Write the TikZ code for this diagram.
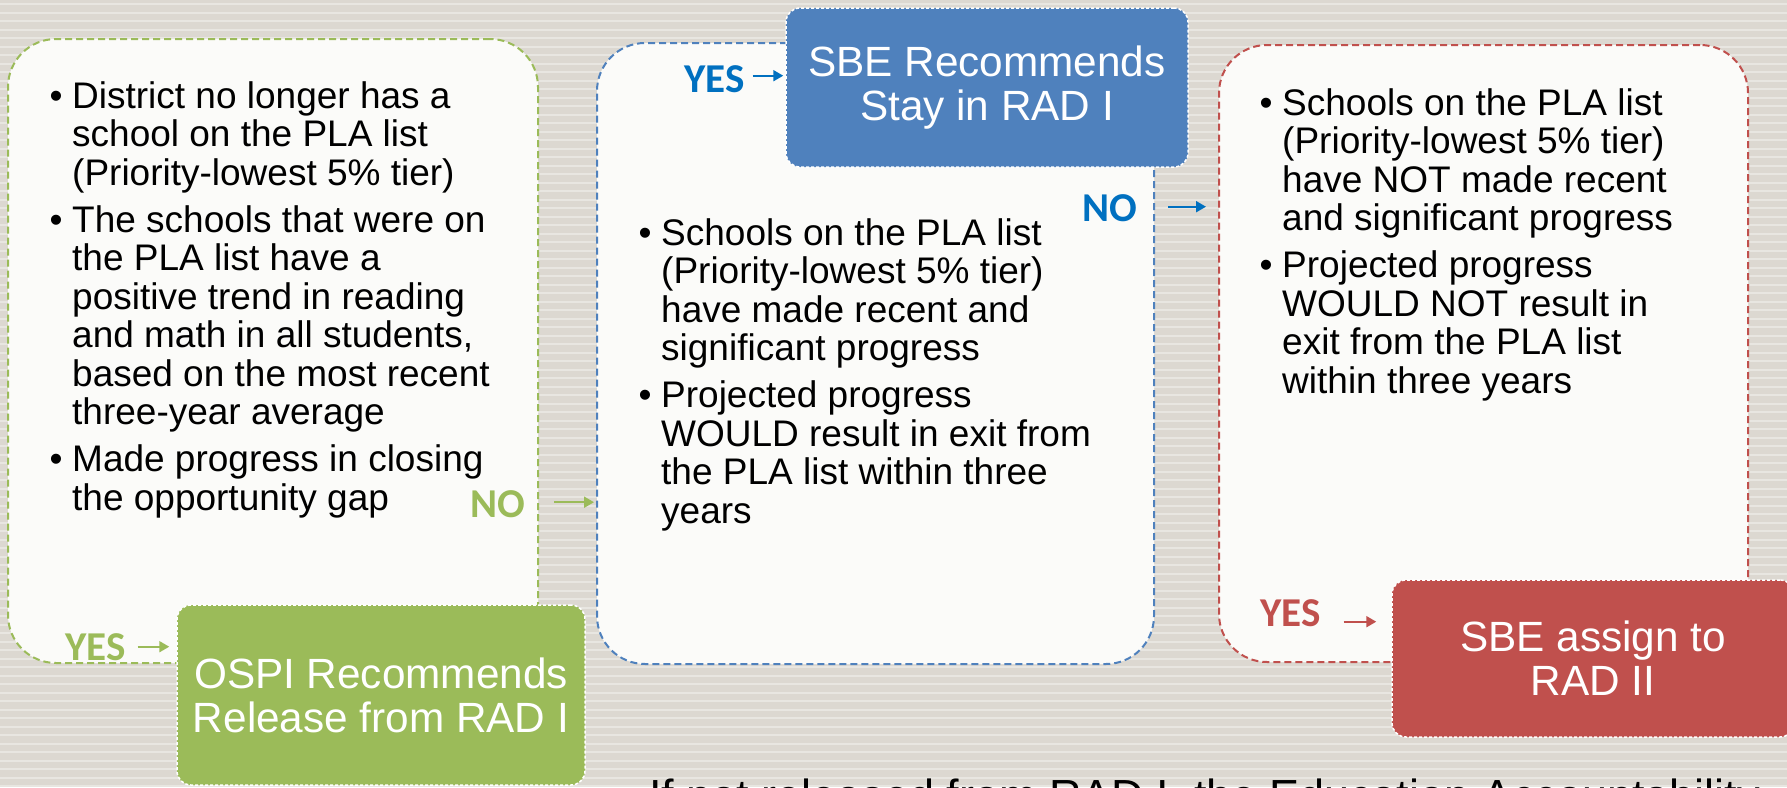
\documentclass[tikz,border=0pt]{standalone}
\usepackage{fontspec}
\setmainfont{Liberation Sans}
\newfontfamily\lblfont{Carlito}
\usetikzlibrary{arrows.meta}
\definecolor{bgc}{HTML}{DCD8D1}
\definecolor{stripec}{HTML}{E8E6E1}
\definecolor{boxfill}{HTML}{FBFBF9}
\definecolor{gr}{HTML}{9BBB59}
\definecolor{bl}{HTML}{4F81BD}
\definecolor{bltxt}{HTML}{0070C0}
\definecolor{rd}{HTML}{C0504D}
\newcommand\bodyfont{\fontsize{37}{38.5}\selectfont\lineskiplimit=-20pt\relax}
\newcommand\bitem[1]{\par\noindent\hangindent=22.5pt\hangafter=1\relax\makebox[22.5pt][l]{•}#1\par}
\newcommand\bgap{\vspace{8.5pt}}
\tikzset{
  bigbox/.style={rounded corners=48pt, fill=boxfill, line width=2pt, dash pattern=on 7pt off 4pt, inner sep=0pt},
  solidbox/.style={rounded corners=14pt, draw=white, dash pattern=on 3pt off 2pt, line width=1.5pt, text=white, align=center, inner sep=0pt, font=\fontsize{42.3}{44}\selectfont},
  lbl/.style={font=\lblfont\bfseries\fontsize{41}{41}\selectfont, inner sep=0pt, anchor=base west},
  bodytext/.style={anchor=base west, inner sep=0pt},
  arr/.style={line width=2pt, -{Triangle[length=10pt,width=11pt]}}
}
\begin{document}
\begin{tikzpicture}[x=1pt,y=-1pt]
\path[use as bounding box, clip] (0,0) rectangle (1787,787);
\fill[bgc] (0,0) rectangle (1787,787);
\foreach \i in {0,...,93} \fill[stripec] (0,{\i*8.5+3}) rectangle (1787,{\i*8.5+5.3});

% big boxes
\node[bigbox, draw=gr, minimum width=530pt, minimum height=624pt] (gbox) at (273,351) {};
\node[bigbox, draw=bl, minimum width=557pt, minimum height=621pt] (bbox) at (875.5,353.5) {};
\node[bigbox, draw=rd, minimum width=529pt, minimum height=617pt] (rbox) at (1483.5,353.5) {};

% body texts
\node[bodytext] (gtext) at (49.5,108) {\begin{minipage}[t]{520pt}\bodyfont
\bitem{District no longer has a\\school on the PLA list\\(Priority-lowest 5\% tier)}\bgap
\bitem{The schools that were on\\the PLA list have a\\positive trend in reading\\and math in all students,\\based on the most recent\\three-year average}\bgap
\bitem{Made progress in closing\\the opportunity gap}
\end{minipage}};
\node[bodytext] (btext) at (638.5,245) {\begin{minipage}[t]{520pt}\bodyfont
\bitem{Schools on the PLA list\\(Priority-lowest 5\% tier)\\have made recent and\\significant progress}\bgap
\bitem{Projected progress\\WOULD result in exit from\\the PLA list within three\\years}
\end{minipage}};
\node[bodytext] (rtext) at (1259.5,115) {\begin{minipage}[t]{520pt}\bodyfont
\bitem{Schools on the PLA list\\(Priority-lowest 5\% tier)\\have NOT made recent\\and significant progress}\bgap
\bitem{Projected progress\\WOULD NOT result in\\exit from the PLA list\\within three years}
\end{minipage}};

% solid result boxes
\node[solidbox, fill=gr, minimum width=408pt, minimum height=180pt] (ospi) at (381,695) {OSPI Recommends\\Release from RAD I};
\node[solidbox, fill=bl, minimum width=402pt, minimum height=159pt] (sbeone) at (987,87.5) {SBE Recommends\\Stay in RAD I};
\node[solidbox, fill=rd, minimum width=402pt, minimum height=157pt] (sbetwo) at (1593,658.5) {SBE assign to\\RAD II};

% labels
\node[lbl, text=gr] (gyes) at (65,660) {YES};
\node[lbl, text=gr] (gno) at (470,517) {NO};
\node[lbl, text=bltxt] (byes) at (684,92) {YES};
\node[lbl, text=bltxt] (bno) at (1082,221) {NO};
\node[lbl, text=rd] (ryes) at (1260,626) {YES};

% arrows
\coordinate (ga) at ([xshift=12pt]gyes.east);
\draw[arr, gr, shorten >=7pt] (ga) -- (ga -| ospi.west);
\coordinate (gb) at ([xshift=29pt,yshift=1.5pt]gno.east);
\draw[arr, gr, shorten >=2pt] (gb) -- (gb -| bbox.west);
\coordinate (ba) at ([xshift=8pt,yshift=3pt]byes.east);
\draw[arr, bltxt, shorten >=2pt] (ba) -- (ba -| sbeone.west);
\coordinate (bb) at ([xshift=31pt,yshift=1pt]bno.east);
\draw[arr, bltxt, shorten >=12pt] (bb) -- (bb -| rbox.west);
\coordinate (ra) at ([xshift=23pt,yshift=-9pt]ryes.east);
\draw[arr, rd, shorten >=15pt] (ra) -- (ra -| sbetwo.west);

% bottom text (cut by the page edge, as in the reference)
\node[bodytext, font=\fontsize{45}{54}\selectfont] (foot) at (649,811) {If not released from RAD I, the Education Accountability};
\end{tikzpicture}
\end{document}
